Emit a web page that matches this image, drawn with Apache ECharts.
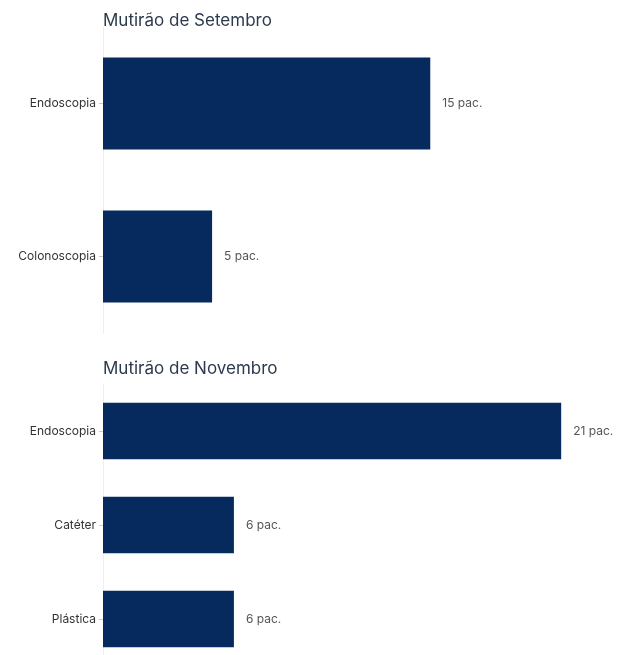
<!DOCTYPE html>
<html>
<head>
<meta charset="utf-8">
<script src="https://cdn.jsdelivr.net/npm/echarts@6/dist/echarts.min.js"></script>
<style>html,body{margin:0;padding:0;background:#fff;overflow:hidden;}#chart{width:618px;height:680px;}</style>
</head>
<body>
<div id="chart"></div>
<script>
var titles = ['Mutirão de Setembro', 'Mutirão de Novembro'];
var catsSet = ['Endoscopia', 'Colonoscopia'];
var valsSet = [15, 5];
var catsNov = ['Endoscopia', 'Catéter', 'Plástica'];
var valsNov = [21, 6, 6];
var unit = ' pac.';

var FONT = 'Inter';
var BAR = '#06295e';
var chart = echarts.init(document.getElementById('chart'));
function yAx(gi, cats) {
  return {
    type: 'category', gridIndex: gi, data: cats, inverse: true,
    axisLine: { show: true, lineStyle: { color: '#eeeeee', width: 1 } },
    axisTick: { show: true, alignWithLabel: true, length: 4, lineStyle: { color: '#cccccc' } },
    axisLabel: { color: '#333', fontSize: 12, fontFamily: FONT, margin: 7 }
  };
}
function xAx(gi) {
  return { type: 'value', gridIndex: gi, min: 0, max: 22, show: false, splitLine: { show: false } };
}
function ser(i, vals) {
  return {
    type: 'bar', xAxisIndex: i, yAxisIndex: i, data: vals, barWidth: '60%',
    itemStyle: { color: BAR },
    label: { show: true, position: 'right', distance: 12, color: '#555', fontSize: 12, fontFamily: FONT,
      formatter: function (p) { return p.value + unit; } },
    silent: true
  };
}
chart.setOption({
  animation: false,
  title: [
    { text: titles[0], left: 98, top: 7, textStyle: { color: '#2b3a4d', fontSize: 17, fontWeight: 'normal', fontFamily: FONT } },
    { text: titles[1], left: 98, top: 355, textStyle: { color: '#2b3a4d', fontSize: 17, fontWeight: 'normal', fontFamily: FONT } }
  ],
  grid: [
    { left: 103, top: 27, height: 306, width: 480 },
    { left: 103, top: 384, height: 282, width: 480 }
  ],
  xAxis: [xAx(0), xAx(1)],
  yAxis: [yAx(0, catsSet), yAx(1, catsNov)],
  series: [ser(0, valsSet), ser(1, valsNov)]
});
</script>
</body>
</html>
